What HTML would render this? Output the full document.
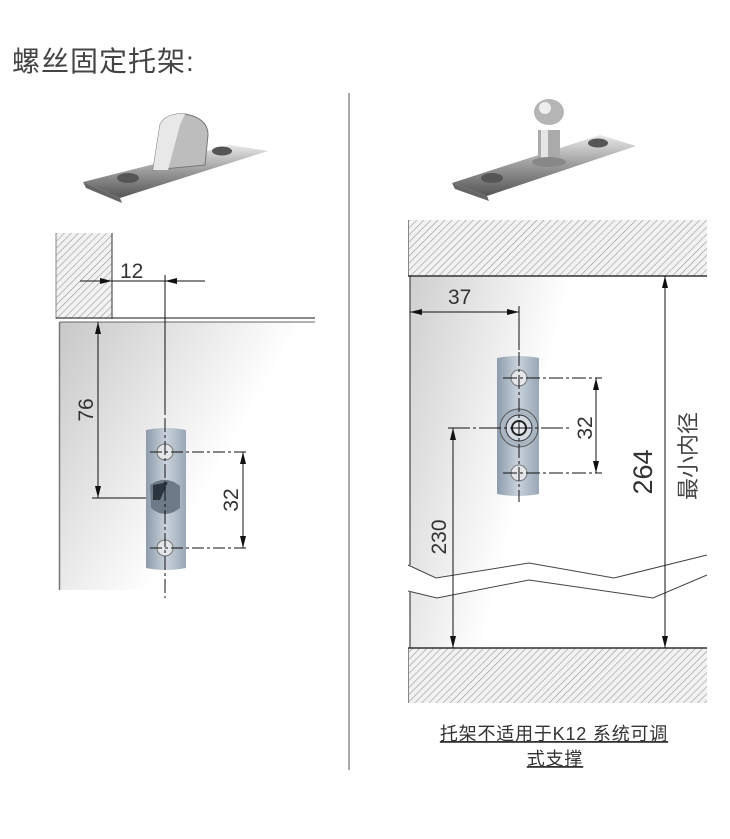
<!DOCTYPE html>
<html><head><meta charset="utf-8"><style>
body{margin:0;background:#fff;}
svg{display:block}
</style></head><body>
<svg width="730" height="839" viewBox="0 0 730 839" xmlns="http://www.w3.org/2000/svg" font-family="'Liberation Sans','Noto Sans CJK SC',sans-serif">
<defs>
<pattern id="h" width="5" height="5" patternUnits="userSpaceOnUse" patternTransform="rotate(45)">
<rect width="5" height="5" fill="#f2f2f2"/><line x1="0" y1="0" x2="0" y2="5" stroke="#999" stroke-width="1.2"/></pattern>
<linearGradient id="gl" x1="0" y1="0" x2="1" y2="0.6"><stop offset="0" stop-color="#c8c8c8"/><stop offset="0.7" stop-color="#fff"/></linearGradient>
<linearGradient id="gr" x1="0" y1="0" x2="1" y2="0.3"><stop offset="0" stop-color="#cfcfcf"/><stop offset="0.5" stop-color="#fff"/></linearGradient>
<linearGradient id="br" x1="0" y1="0" x2="1" y2="0"><stop offset="0" stop-color="#8d9bab"/><stop offset="0.5" stop-color="#c9d2dc"/><stop offset="1" stop-color="#9aa7b5"/></linearGradient>
<linearGradient id="mt" x1="0" y1="0" x2="0" y2="1"><stop offset="0" stop-color="#e8e8e8"/><stop offset="0.5" stop-color="#9a9a9a"/><stop offset="1" stop-color="#555"/></linearGradient>
<marker id="a" viewBox="0 0 12 6" refX="12" refY="3" markerWidth="12" markerHeight="6" orient="auto-start-reverse" markerUnits="userSpaceOnUse"><path d="M0,0L12,3L0,6z" fill="#111"/></marker>
</defs>
<text x="12" y="71" font-size="28" fill="#444" letter-spacing="1">螺丝固定托架:</text>
<line x1="349" y1="93" x2="349" y2="770" stroke="#aaa" stroke-width="2"/>

<!-- top products -->
<polygon points="83,182 230,145 268,151 120,198" fill="url(#mt)"/>
<polygon points="83,182 120,198 122,203 86,188" fill="#666"/>
<ellipse cx="128" cy="178" rx="11" ry="5" fill="#555"/><ellipse cx="222" cy="151" rx="10" ry="4.5" fill="#555"/>
<path d="M153,170 L160,125 Q165,113 185,114 Q208,118 208,135 L205,165 Z" fill="#bdbdbd" stroke="#777"/>
<path d="M160,125 Q165,113 185,114 L180,125 L168,170 L153,170Z" fill="#e8e8e8"/>
<polygon points="452,183 600,135 636,146 487,196" fill="url(#mt)"/>
<polygon points="452,183 487,196 489,201 455,189" fill="#666"/>
<ellipse cx="492" cy="178" rx="11" ry="5" fill="#555"/><ellipse cx="598" cy="143" rx="10" ry="4.5" fill="#555"/>
<rect x="538" y="130" width="22" height="35" fill="#aaa"/>
<rect x="541" y="130" width="7" height="35" fill="#e5e5e5"/>
<ellipse cx="549" cy="112" rx="15" ry="13" fill="#b5b5b5"/><ellipse cx="545" cy="108" rx="6" ry="6" fill="#eee"/>
<ellipse cx="549" cy="162" rx="17" ry="5" fill="#888"/>

<!-- LEFT diagram -->
<rect x="60" y="322" width="255" height="268" fill="url(#gl)"/>
<rect x="56" y="233" width="56" height="86" fill="url(#h)"/>
<line x1="56" y1="233" x2="56" y2="319" stroke="#888"/>
<line x1="112" y1="233" x2="112" y2="319" stroke="#333"/>
<line x1="56" y1="318" x2="315" y2="318" stroke="#444" stroke-width="1.3"/>
<line x1="60" y1="322" x2="315" y2="322" stroke="#666"/>
<line x1="59.5" y1="322" x2="59.5" y2="590" stroke="#777" stroke-width="1.5"/>
<line x1="80" y1="281" x2="112" y2="281" stroke="#111" marker-end="url(#a)"/>
<line x1="112" y1="281" x2="165" y2="281" stroke="#111"/>
<line x1="205" y1="281" x2="165" y2="281" stroke="#111" marker-end="url(#a)"/>
<text x="120" y="278" font-size="21" fill="#333">12</text>
<line x1="165" y1="275" x2="165" y2="415" stroke="#111"/>
<line x1="98" y1="322" x2="98" y2="498" stroke="#111" marker-start="url(#a)" marker-end="url(#a)"/>
<line x1="92" y1="498" x2="180" y2="498" stroke="#111"/>
<text transform="translate(93,410) rotate(-90)" font-size="21" fill="#333" text-anchor="middle">76</text>
<path d="M146,430 Q166,426 186,430 L186,568 Q166,572 146,568Z" fill="url(#br)"/>
<circle cx="165" cy="452" r="8" fill="#e4e6ea" stroke="#777"/>
<circle cx="165" cy="548" r="8" fill="#e4e6ea" stroke="#777"/>
<path d="M150,485 Q165,474 180,486 L180,508 Q165,520 151,508Z" fill="#6d7a88"/>
<path d="M153,485 L168,482 L160,500 L153,500Z" fill="#2c3440"/>
<line x1="165" y1="418" x2="165" y2="598" stroke="#111" stroke-dasharray="14,3,3,3"/>
<line x1="150" y1="452" x2="248" y2="452" stroke="#111" stroke-dasharray="12,3,3,3"/>
<line x1="150" y1="548" x2="248" y2="548" stroke="#111" stroke-dasharray="12,3,3,3"/>
<line x1="243" y1="452" x2="243" y2="548" stroke="#111" marker-start="url(#a)" marker-end="url(#a)"/>
<text transform="translate(238,500) rotate(-90)" font-size="21" fill="#333" text-anchor="middle">32</text>

<!-- RIGHT diagram -->
<path d="M410,276 L707,276 L707,648 L410,648Z" fill="url(#gr)"/>
<path d="M408,565 L436,578 L529,563 L614,578 L707,555 L707,575 L653,598 L529,580 L437,598 L408,591Z" fill="#fff"/>
<polyline points="408,565 436,578 529,563 614,578 707,555" fill="none" stroke="#444"/>
<polyline points="408,591 437,598 529,580 653,598 707,575" fill="none" stroke="#444"/>
<rect x="408" y="220" width="299" height="56" fill="url(#h)"/>
<rect x="408" y="648" width="299" height="55" fill="url(#h)"/>
<line x1="408.5" y1="220" x2="408.5" y2="276" stroke="#888"/>
<line x1="408.5" y1="648" x2="408.5" y2="703" stroke="#888"/>
<line x1="410" y1="276" x2="410" y2="565" stroke="#666" stroke-width="1.5"/>
<line x1="410" y1="591" x2="410" y2="648" stroke="#666" stroke-width="1.5"/>
<line x1="408" y1="276" x2="707" y2="276" stroke="#333" stroke-width="1.5"/>
<line x1="408" y1="648" x2="707" y2="648" stroke="#333" stroke-width="1.5"/>
<line x1="410" y1="312" x2="519" y2="312" stroke="#111" marker-start="url(#a)" marker-end="url(#a)"/>
<text x="448" y="304" font-size="21" fill="#333">37</text>
<line x1="519" y1="306" x2="519" y2="350" stroke="#111"/>
<path d="M497,358 Q518,354 539,358 L539,494 Q518,498 497,494Z" fill="url(#br)"/>
<circle cx="519" cy="378" r="8" fill="#e4e6ea" stroke="#777"/>
<circle cx="519" cy="473" r="8" fill="#e4e6ea" stroke="#777"/>
<circle cx="519" cy="428" r="19" fill="#aab5c2" stroke="#555"/>
<circle cx="519" cy="428" r="13" fill="#d5dbe2" stroke="#333"/>
<circle cx="519" cy="428" r="7" fill="#e8ecef" stroke="#222" stroke-width="2"/>
<line x1="519" y1="352" x2="519" y2="502" stroke="#111" stroke-dasharray="14,3,3,3"/>
<line x1="503" y1="378" x2="602" y2="378" stroke="#111" stroke-dasharray="14,3,3,3"/>
<line x1="503" y1="473" x2="602" y2="473" stroke="#111" stroke-dasharray="14,3,3,3"/>
<line x1="596" y1="378" x2="596" y2="473" stroke="#111" marker-start="url(#a)" marker-end="url(#a)"/>
<text transform="translate(592,428) rotate(-90)" font-size="21" fill="#333" text-anchor="middle">32</text>
<line x1="448" y1="428" x2="570" y2="428" stroke="#111" stroke-dasharray="22,3,3,3"/>
<line x1="453" y1="428" x2="453" y2="648" stroke="#111" marker-start="url(#a)" marker-end="url(#a)"/>
<text transform="translate(446,537) rotate(-90)" font-size="21" fill="#333" text-anchor="middle">230</text>
<line x1="665" y1="276" x2="665" y2="648" stroke="#111" marker-start="url(#a)" marker-end="url(#a)"/>
<text transform="translate(652,472) rotate(-90)" font-size="27" fill="#333" text-anchor="middle">264</text>
<text transform="translate(696,456) rotate(-90)" font-size="22" fill="#444" text-anchor="middle">最小内径</text>
<text x="554" y="740" font-size="18" fill="#333" text-anchor="middle" letter-spacing="0.8" text-decoration="underline">托架不适用于K12 系统可调</text>
<text x="555" y="765" font-size="18" fill="#333" text-anchor="middle" letter-spacing="0.8" text-decoration="underline">式支撑</text>
</svg>
</body></html>
